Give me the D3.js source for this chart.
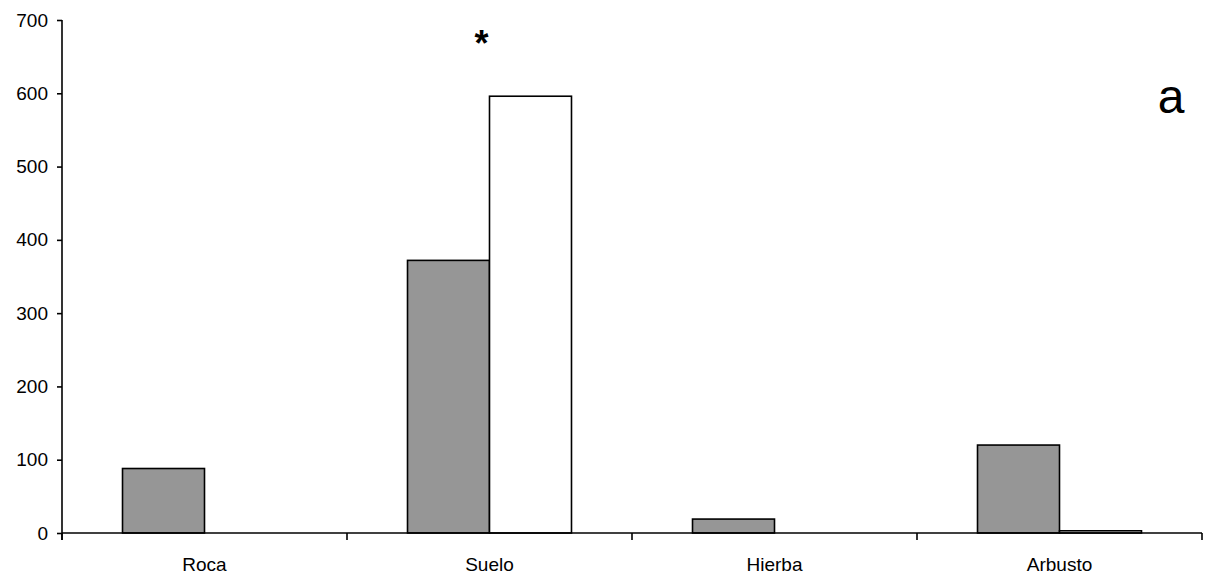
<!DOCTYPE html>
<html>
<head>
<meta charset="utf-8">
<script src="https://cdn.jsdelivr.net/npm/d3@7"></script>
<style>
  html, body { margin: 0; padding: 0; background: #fff; }
  svg { display: block; font-family: "Liberation Sans", Arial, sans-serif; }
</style>
</head>
<body>
<svg id="chart" width="1215" height="582"></svg>
<script>
// Categories on the x axis and the two grouped series
const categories = ["Roca", "Suelo", "Hierba", "Arbusto"];
const seriesKeys = ["s1", "s2"];
const series1 = [88, 372, 19, 120];
const series2 = [0, 596, 0, 3];
const yTicks = [0, 100, 200, 300, 400, 500, 600, 700];
const seriesFill = { s1: "#969696", s2: "#ffffff" };

const rows = categories.map((c, i) => ({ cat: c, s1: series1[i], s2: series2[i] }));

const svg = d3.select("#chart");
const margin = { left: 62, right: 13, top: 20, bottom: 49 };
const W = 1215, H = 582;

const x0 = d3.scaleBand()
  .domain(categories)
  .range([margin.left, W - margin.right])
  .padding(0);

const x1 = d3.scaleBand()
  .domain(seriesKeys)
  .range([0, x0.bandwidth()])
  .paddingInner(0)
  .paddingOuter(0.738);

const y = d3.scaleLinear()
  .domain([0, 700])
  .range([H - margin.bottom, margin.top]);

// Bars
const groups = svg.append("g")
  .selectAll("g")
  .data(rows)
  .join("g")
  .attr("transform", d => `translate(${x0(d.cat)},0)`);

groups.selectAll("rect")
  .data(d => seriesKeys.map(k => ({ key: k, value: d[k] })))
  .join("rect")
  .attr("x", d => x1(d.key))
  .attr("y", d => y(d.value))
  .attr("width", x1.bandwidth())
  .attr("height", d => y(0) - y(d.value))
  .attr("fill", d => seriesFill[d.key])
  .attr("stroke", "#000")
  .attr("stroke-width", 1.6);

// Y axis
const yAxis = svg.append("g")
  .attr("transform", `translate(${margin.left},0)`)
  .call(d3.axisLeft(y).tickValues(yTicks).tickSize(5).tickSizeOuter(0).tickPadding(9));
yAxis.select(".domain").attr("stroke", "#000").attr("stroke-width", 1.6)
  .attr("d", `M0,${margin.top}V${H - margin.bottom + 7}`);
yAxis.selectAll(".tick line").attr("stroke", "#000").attr("stroke-width", 1.6);
yAxis.selectAll(".tick text").attr("font-size", 19).attr("fill", "#000")
  .attr("font-family", "Liberation Sans, Arial, sans-serif");

// X axis: ticks at category boundaries, labels centred in each band
const xAxis = svg.append("g")
  .attr("transform", `translate(0,${y(0)})`);
xAxis.append("line")
  .attr("x1", margin.left).attr("x2", W - margin.right)
  .attr("y1", 0).attr("y2", 0)
  .attr("stroke", "#000").attr("stroke-width", 1.6);
const boundaries = categories.map(c => x0(c)).concat([x0(categories[categories.length - 1]) + x0.bandwidth()]);
xAxis.selectAll(".xtick")
  .data(boundaries)
  .join("line")
  .attr("class", "xtick")
  .attr("x1", d => d).attr("x2", d => d)
  .attr("y1", 0).attr("y2", 7)
  .attr("stroke", "#000").attr("stroke-width", 1.6);
xAxis.selectAll(".xlabel")
  .data(categories)
  .join("text")
  .attr("class", "xlabel")
  .attr("x", d => x0(d) + x0.bandwidth() / 2)
  .attr("y", 38)
  .attr("text-anchor", "middle")
  .attr("font-size", 19)
  .attr("fill", "#000")
  .text(d => d);

// Significance mark over Suelo
svg.append("text")
  .attr("x", x0("Suelo") + x0.bandwidth() / 2 - 8)
  .attr("y", 56)
  .attr("text-anchor", "middle")
  .attr("font-size", 36)
  .attr("font-weight", "bold")
  .attr("fill", "#000")
  .text("*");

// Panel letter
svg.append("text")
  .attr("x", 1171)
  .attr("y", 113)
  .attr("text-anchor", "middle")
  .attr("font-size", 48)
  .attr("fill", "#000")
  .text("a");
</script>
</body>
</html>
